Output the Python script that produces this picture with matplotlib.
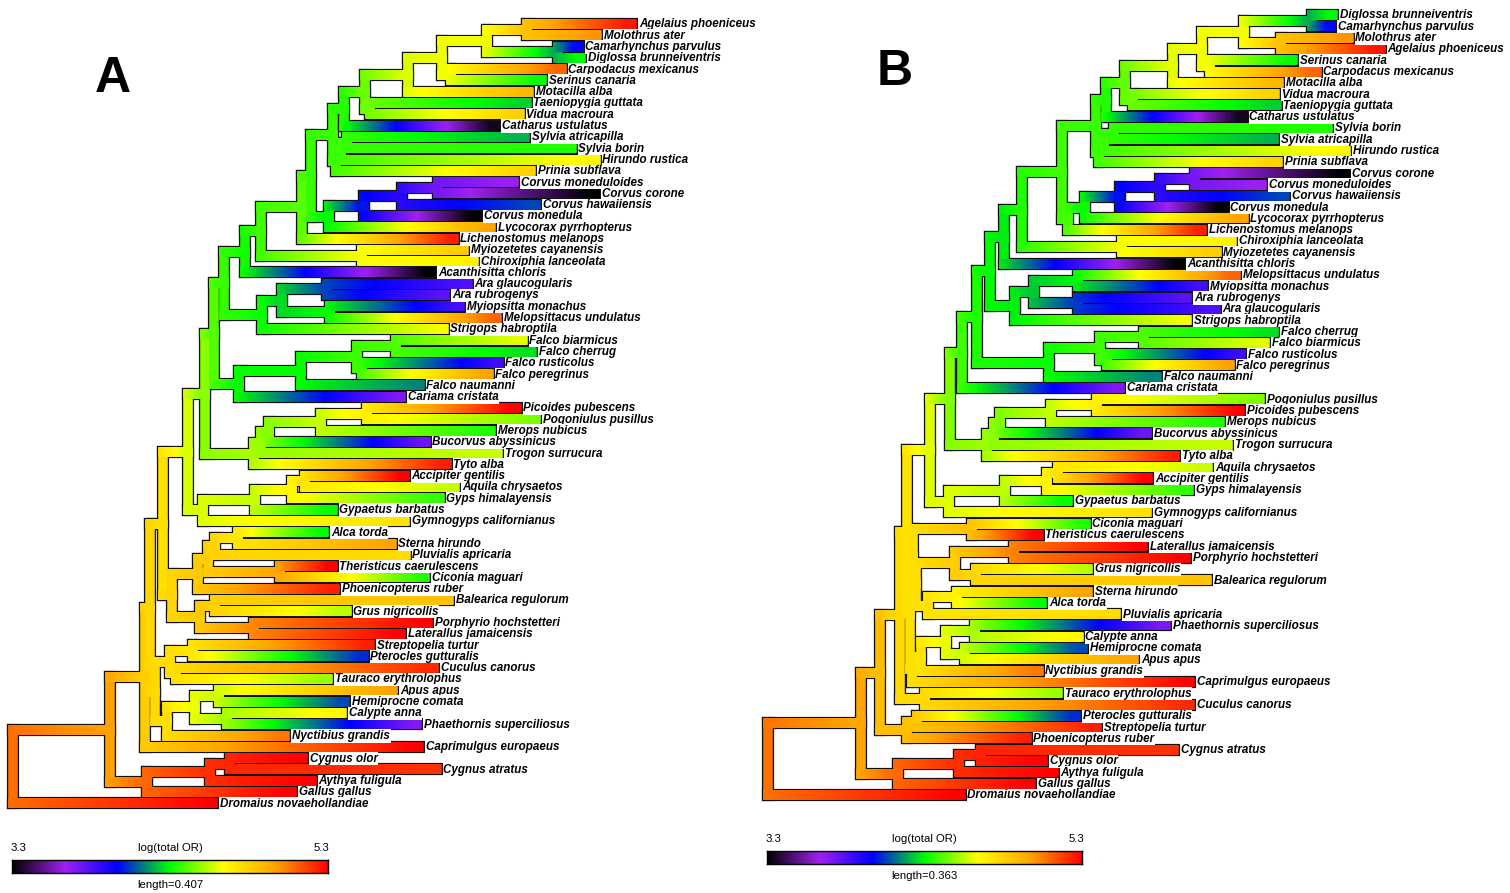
import numpy as np
import matplotlib
matplotlib.use("Agg")
import matplotlib.pyplot as plt
from matplotlib.collections import LineCollection
from matplotlib.colors import LinearSegmentedColormap, Normalize
from matplotlib import font_manager

# ---------------------------------------------------------------- data
# tip names (order of tree A) and the mapped trait log(total OR)
TIPS = [
    "Agelaius phoeniceus", "Molothrus ater", "Camarhynchus parvulus", "Diglossa brunneiventris",
    "Carpodacus mexicanus", "Serinus canaria", "Motacilla alba", "Taeniopygia guttata",
    "Vidua macroura", "Catharus ustulatus", "Sylvia atricapilla", "Sylvia borin",
    "Hirundo rustica", "Prinia subflava", "Corvus moneduloides", "Corvus corone",
    "Corvus hawaiiensis", "Corvus monedula", "Lycocorax pyrrhopterus", "Lichenostomus melanops",
    "Myiozetetes cayanensis", "Chiroxiphia lanceolata", "Acanthisitta chloris", "Ara glaucogularis",
    "Ara rubrogenys", "Myiopsitta monachus", "Melopsittacus undulatus", "Strigops habroptila",
    "Falco biarmicus", "Falco cherrug", "Falco rusticolus", "Falco peregrinus",
    "Falco naumanni", "Cariama cristata", "Picoides pubescens", "Pogoniulus pusillus",
    "Merops nubicus", "Bucorvus abyssinicus", "Trogon surrucura", "Tyto alba",
    "Accipiter gentilis", "Aquila chrysaetos", "Gyps himalayensis", "Gypaetus barbatus",
    "Gymnogyps californianus", "Alca torda", "Sterna hirundo", "Pluvialis apricaria",
    "Theristicus caerulescens", "Ciconia maguari", "Phoenicopterus ruber", "Balearica regulorum",
    "Grus nigricollis", "Porphyrio hochstetteri", "Laterallus jamaicensis", "Streptopelia turtur",
    "Pterocles gutturalis", "Cuculus canorus", "Tauraco erythrolophus", "Apus apus",
    "Hemiprocne comata", "Calypte anna", "Phaethornis superciliosus", "Nyctibius grandis",
    "Caprimulgus europaeus", "Cygnus olor", "Cygnus atratus", "Aythya fuligula",
    "Gallus gallus", "Dromaius novaehollandiae",
]
LOG_TOTAL_OR = [
    5.26, 5.00, 3.97, 4.30, 5.10, 4.30, 4.90, 4.24, 4.80, 3.34,
    4.20, 4.34, 4.66, 4.80, 3.64, 3.30, 4.06, 3.30, 4.97, 5.24,
    4.82, 4.68, 3.30, 3.80, 3.78, 3.82, 5.10, 4.62, 4.60, 4.26,
    3.84, 4.97, 4.14, 3.70, 5.30, 4.46, 4.34, 3.74, 4.56, 5.24,
    5.30, 4.56, 4.36, 4.30, 4.74, 4.30, 4.97, 4.76, 5.30, 4.34,
    5.24, 4.86, 4.54, 5.30, 5.30, 5.24, 4.02, 5.22, 4.50, 4.97,
    4.06, 4.66, 3.70, 5.06, 5.30, 5.30, 5.20, 5.30, 5.30, 5.30,
]
# tip heights (distance from root) in tree A and tree B, same order as TIPS
TIP_DEPTH_A = [
    0.798, 0.753, 0.729, 0.732, 0.707, 0.682, 0.665, 0.662, 0.653, 0.621,
    0.660, 0.720, 0.751, 0.668, 0.646, 0.750, 0.674, 0.598, 0.616, 0.568,
    0.581, 0.594, 0.539, 0.586, 0.557, 0.576, 0.624, 0.555, 0.657, 0.669,
    0.626, 0.613, 0.524, 0.500, 0.649, 0.674, 0.616, 0.532, 0.625, 0.559,
    0.505, 0.570, 0.550, 0.412, 0.505, 0.401, 0.488, 0.506, 0.412, 0.531,
    0.415, 0.562, 0.430, 0.535, 0.500, 0.460, 0.452, 0.543, 0.406, 0.490,
    0.428, 0.424, 0.521, 0.351, 0.523, 0.374, 0.546, 0.385, 0.360, 0.258,
]
TIP_DEPTH_B = [
    0.706, 0.669, 0.649, 0.651, 0.632, 0.605, 0.589, 0.586, 0.584, 0.547,
    0.583, 0.645, 0.666, 0.588, 0.569, 0.665, 0.596, 0.525, 0.548, 0.500,
    0.517, 0.535, 0.475, 0.516, 0.483, 0.501, 0.539, 0.483, 0.573, 0.583,
    0.545, 0.532, 0.448, 0.406, 0.544, 0.567, 0.521, 0.437, 0.530, 0.469,
    0.438, 0.507, 0.485, 0.346, 0.437, 0.316, 0.369, 0.401, 0.312, 0.366,
    0.298, 0.506, 0.369, 0.482, 0.432, 0.379, 0.355, 0.486, 0.334, 0.422,
    0.363, 0.358, 0.459, 0.312, 0.486, 0.317, 0.468, 0.329, 0.303, 0.222,
]
# internal nodes: (id, height from root, upper child, lower child)
NODES_A = [
    ("root", 0.000, "Neog", "Dromaius novaehollandiae"),
    ("Neog", 0.125, "Neoaves", "Gall"),
    ("Neoaves", 0.170, "J", "Caprimulgus europaeus"),
    ("J", 0.177, "I", "L"),
    ("I", 0.193, "H", "W"),
    ("H", 0.226, "G", "Accip"),
    ("G", 0.247, "F", "TC"),
    ("F", 0.259, "E", "FC"),
    ("E", 0.272, "D", "Psitt"),
    ("D", 0.299, "C", "Acanthisitta chloris"),
    ("C", 0.320, "B", "Tyr"),
    ("B", 0.372, "A", "Lichenostomus melanops"),
    ("A", 0.384, "Passerida", "CL"),
    ("Passerida", 0.412, "X5", "Sylv"),
    ("X5", 0.427, "X4", "Catharus ustulatus"),
    ("X4", 0.454, "X3", "TV"),
    ("X3", 0.509, "X2", "Motacilla alba"),
    ("X2", 0.553, "X1", "CS"),
    ("X1", 0.611, "AM", "CD"),
    ("AM", 0.662, "Agelaius phoeniceus", "Molothrus ater"),
    ("CD", 0.702, "Camarhynchus parvulus", "Diglossa brunneiventris"),
    ("CS", 0.564, "Carpodacus mexicanus", "Serinus canaria"),
    ("TV", 0.460, "Taeniopygia guttata", "Vidua macroura"),
    ("Sylv", 0.416, "SH", "Prinia subflava"),
    ("SH", 0.423, "Syl", "Hirundo rustica"),
    ("Syl", 0.430, "Sylvia atricapilla", "Sylvia borin"),
    ("CL", 0.407, "Corvus", "Lycocorax pyrrhopterus"),
    ("Corvus", 0.452, "CH", "Corvus monedula"),
    ("CH", 0.501, "CC", "Corvus hawaiiensis"),
    ("CC", 0.548, "Corvus moneduloides", "Corvus corone"),
    ("Tyr", 0.450, "Myiozetetes cayanensis", "Chiroxiphia lanceolata"),
    ("Psitt", 0.321, "PA", "Strigops habroptila"),
    ("PA", 0.347, "Ara", "MM"),
    ("Ara", 0.405, "Ara glaucogularis", "Ara rubrogenys"),
    ("MM", 0.409, "Myiopsitta monachus", "Melopsittacus undulatus"),
    ("FC", 0.291, "Falco", "Cariama cristata"),
    ("Falco", 0.371, "F2", "Falco naumanni"),
    ("F2", 0.443, "F1", "F3"),
    ("F1", 0.494, "Falco biarmicus", "Falco cherrug"),
    ("F3", 0.450, "Falco rusticolus", "Falco peregrinus"),
    ("TC", 0.311, "Cor", "Tyto alba"),
    ("Cor", 0.320, "Cor2", "Trogon surrucura"),
    ("Cor2", 0.330, "PPM", "Bucorvus abyssinicus"),
    ("PPM", 0.397, "PP", "Merops nubicus"),
    ("PP", 0.456, "Picoides pubescens", "Pogoniulus pusillus"),
    ("Accip", 0.245, "Acc1", "Gymnogyps californianus"),
    ("Acc1", 0.312, "AAG", "Gypaetus barbatus"),
    ("AAG", 0.360, "AA", "Gyps himalayensis"),
    ("AA", 0.376, "Accipiter gentilis", "Aquila chrysaetos"),
    ("W", 0.205, "V", "Gru"),
    ("V", 0.238, "W2", "Phoenicopterus ruber"),
    ("W2", 0.251, "Char", "TC2"),
    ("Char", 0.260, "AS", "Pluvialis apricaria"),
    ("AS", 0.290, "Alca torda", "Sterna hirundo"),
    ("TC2", 0.344, "Theristicus caerulescens", "Ciconia maguari"),
    ("Gru", 0.241, "BG", "PL"),
    ("BG", 0.260, "Balearica regulorum", "Grus nigricollis"),
    ("PL", 0.311, "Porphyrio hochstetteri", "Laterallus jamaicensis"),
    ("L", 0.183, "Col", "AN"),
    ("Col", 0.202, "SP", "CT"),
    ("SP", 0.232, "Streptopelia turtur", "Pterocles gutturalis"),
    ("CT", 0.210, "Cuculus canorus", "Tauraco erythrolophus"),
    ("AN", 0.198, "Apod", "Nyctibius grandis"),
    ("Apod", 0.235, "AH", "CPh"),
    ("AH", 0.265, "Apus apus", "Hemiprocne comata"),
    ("CPh", 0.276, "Calypte anna", "Phaethornis superciliosus"),
    ("Gall", 0.173, "Anser", "Gallus gallus"),
    ("Anser", 0.254, "Cyg", "Aythya fuligula"),
    ("Cyg", 0.280, "Cygnus olor", "Cygnus atratus"),
]
NODES_B = [
    ("root", 0.000, "Neog", "Dromaius novaehollandiae"),
    ("Neog", 0.107, "Neoaves", "Gall"),
    ("Neoaves", 0.129, "Q", "CP"),
    ("Q", 0.152, "R", "TCu"),
    ("R", 0.160, "T2", "WS"),
    ("T2", 0.187, "T1", "AccB"),
    ("T1", 0.210, "AU3", "CorB"),
    ("AU3", 0.224, "AU2", "Cariama cristata"),
    ("AU2", 0.241, "AU1", "Falco"),
    ("AU1", 0.256, "Pass", "Psitt"),
    ("Pass", 0.272, "Eup", "Acanthisitta chloris"),
    ("Eup", 0.293, "Os", "Tyr"),
    ("Os", 0.339, "P", "CLL"),
    ("P", 0.378, "PC", "Sylv"),
    ("PC", 0.389, "Passeroidea", "Catharus ustulatus"),
    ("Passeroidea", 0.411, "PAx", "VT"),
    ("PAx", 0.467, "PB", "Motacilla alba"),
    ("PB", 0.500, "PD", "SC"),
    ("PD", 0.548, "DC", "MA"),
    ("DC", 0.627, "Diglossa brunneiventris", "Camarhynchus parvulus"),
    ("MA", 0.591, "Molothrus ater", "Agelaius phoeniceus"),
    ("SC", 0.509, "Serinus canaria", "Carpodacus mexicanus"),
    ("VT", 0.421, "Vidua macroura", "Taeniopygia guttata"),
    ("Sylv", 0.381, "SH", "Prinia subflava"),
    ("SH", 0.387, "Syl", "Hirundo rustica"),
    ("Syl", 0.399, "Sylvia borin", "Sylvia atricapilla"),
    ("CLL", 0.346, "CL", "Lichenostomus melanops"),
    ("CL", 0.365, "Corvus", "Lycocorax pyrrhopterus"),
    ("Corvus", 0.406, "CH", "Corvus monedula"),
    ("CH", 0.452, "CC", "Corvus hawaiiensis"),
    ("CC", 0.492, "Corvus corone", "Corvus moneduloides"),
    ("Tyr", 0.408, "Chiroxiphia lanceolata", "Myiozetetes cayanensis"),
    ("Psitt", 0.285, "MA2", "Strigops habroptila"),
    ("MA2", 0.306, "MMy", "AraB"),
    ("MMy", 0.357, "Melopsittacus undulatus", "Myiopsitta monachus"),
    ("AraB", 0.357, "Ara rubrogenys", "Ara glaucogularis"),
    ("Falco", 0.324, "F2", "Falco naumanni"),
    ("F2", 0.382, "F1", "F3"),
    ("F1", 0.433, "Falco cherrug", "Falco biarmicus"),
    ("F3", 0.391, "Falco rusticolus", "Falco peregrinus"),
    ("CorB", 0.252, "CB1", "Tyto alba"),
    ("CB1", 0.260, "CB2", "Trogon surrucura"),
    ("CB2", 0.267, "CB3", "Bucorvus abyssinicus"),
    ("CB3", 0.326, "PP", "Merops nubicus"),
    ("PP", 0.379, "Pogoniulus pusillus", "Picoides pubescens"),
    ("AccB", 0.209, "AB1", "Gymnogyps californianus"),
    ("AB1", 0.273, "AB2", "Gypaetus barbatus"),
    ("AB2", 0.321, "AAc", "Gyps himalayensis"),
    ("AAc", 0.334, "Aquila chrysaetos", "Accipiter gentilis"),
    ("WS", 0.164, "Wat", "Stri"),
    ("Wat", 0.167, "CT", "GC"),
    ("CT", 0.235, "Ciconia maguari", "Theristicus caerulescens"),
    ("GC", 0.171, "Gru", "Char"),
    ("Gru", 0.215, "LP", "GB"),
    ("LP", 0.283, "Laterallus jamaicensis", "Porphyrio hochstetteri"),
    ("GB", 0.240, "Grus nigricollis", "Balearica regulorum"),
    ("Char", 0.184, "SA", "Pluvialis apricaria"),
    ("SA", 0.218, "Sterna hirundo", "Alca torda"),
    ("Stri", 0.166, "AN", "Caprimulgus europaeus"),
    ("AN", 0.176, "Apod", "Nyctibius grandis"),
    ("Apod", 0.205, "PhC", "HA"),
    ("PhC", 0.238, "Phaethornis superciliosus", "Calypte anna"),
    ("HA", 0.227, "Hemiprocne comata", "Apus apus"),
    ("TCu", 0.181, "Tauraco erythrolophus", "Cuculus canorus"),
    ("CP", 0.160, "PS", "Phoenicopterus ruber"),
    ("PS", 0.172, "Pterocles gutturalis", "Streptopelia turtur"),
    ("Gall", 0.150, "Anser", "Gallus gallus"),
    ("Anser", 0.220, "Cyg", "Aythya fuligula"),
    ("Cyg", 0.245, "Cygnus atratus", "Cygnus olor"),
]
TRAIT_LIMS = [3.3, 5.3]
LEGEND_LENGTH = [0.407, 0.363]
PANEL_LABELS = ["A", "B"]
LEGEND_TITLE = "log(total OR)"
PALETTE = ["#000000", "#A020F0", "#0000FF", "#00FF00", "#FFFF00", "#FFA500", "#FF0000"]

# ---------------------------------------------------------------- layout (pixels)
W, H = 1510, 893
LAYOUT = [
    dict(x0=0, x1=760, root=13, ppu=776.0, ytop=24, dy=11.294, bar_y=860, letter=(113, 79)),
    dict(x0=760, x1=1510, root=768, ppu=868.0, ytop=15, dy=11.304, bar_y=851, letter=(895, 72)),
]
AX_Y1 = 830
LW_COL_PX, LW_OUT_PX = 9.6, 12.2

avail = {f.name for f in font_manager.fontManager.ttflist}
TEXT_FONT = "Liberation Sans" if "Liberation Sans" in avail else "DejaVu Sans"
LABEL_FONT = TEXT_FONT
LABEL_SIZE = 8.4 if TEXT_FONT == "Liberation Sans" else 7.4

cmap = LinearSegmentedColormap.from_list("contmap", PALETTE, N=1001)
norm = Normalize(*TRAIT_LIMS)
tipval = dict(zip(TIPS, LOG_TOTAL_OR))


def build_tree(nodes, tip_depth):
    depth = {n: d for n, d, _, _ in nodes}
    depth.update(dict(zip(TIPS, tip_depth)))
    children = {n: [c1, c2] for n, _, c1, c2 in nodes}
    return depth, children


def ancestral(depth, children, root="root"):
    """ML ancestral states under Brownian motion (two-pass)."""
    parent = {c: p for p, cs in children.items() for c in cs}
    order = []

    def post(n):
        for c in children.get(n, []):
            post(c)
        order.append(n)
    post(root)
    bl = {n: depth[n] - depth[parent[n]] for n in parent}
    dm, dv = {}, {}
    for n in order:
        if n not in children:
            dm[n], dv[n] = tipval[n], 0.0
        else:
            w = [1.0 / (dv[c] + bl[c]) for c in children[n]]
            dm[n] = sum(wi * dm[c] for wi, c in zip(w, children[n])) / sum(w)
            dv[n] = 1.0 / sum(w)
    up = {}
    val = {}
    for n in reversed(order):
        if n not in children:
            val[n] = tipval[n]
            continue
        msgs = [(dm[c], dv[c] + bl[c]) for c in children[n]]
        extra = [up[n]] if n in up else []
        allm = msgs + extra
        w = [1 / v for _, v in allm]
        val[n] = sum(wi * m for wi, (m, _) in zip(w, allm)) / sum(w)
        for i, c in enumerate(children[n]):
            oth = [msgs[j] for j in range(len(msgs)) if j != i] + extra
            ww = [1 / v for _, v in oth]
            m = sum(wi * mm for wi, (mm, _) in zip(ww, oth)) / sum(ww)
            up[c] = (m, 1.0 / sum(ww) + bl[c])
    return val, parent


def tip_order(children, n="root"):
    if n not in children:
        return [n]
    out = []
    for c in children[n]:
        out += tip_order(children, c)
    return out


fig = plt.figure(figsize=(W / 100, H / 100), dpi=100)


def px_axes(x0, y0, x1, y1):
    return fig.add_axes([x0 / W, 1 - y1 / H, (x1 - x0) / W, (y1 - y0) / H])


for k, (nodes, tdepth) in enumerate([(NODES_A, TIP_DEPTH_A), (NODES_B, TIP_DEPTH_B)]):
    L = LAYOUT[k]
    depth, children = build_tree(nodes, tdepth)
    val, parent = ancestral(depth, children)
    tips = tip_order(children)
    ypos = {t: i for i, t in enumerate(tips)}

    def sety(n):
        if n in ypos:
            return ypos[n]
        ys = [sety(c) for c in children[n]]
        ypos[n] = (ys[0] + ys[-1]) / 2
        return ypos[n]
    sety("root")

    ax = px_axes(L["x0"], 0, L["x1"], AX_Y1)
    ax.set_xlim((L["x0"] - L["root"]) / L["ppu"], (L["x1"] - L["root"]) / L["ppu"])
    ax.set_ylim((AX_Y1 - L["ytop"]) / L["dy"], -L["ytop"] / L["dy"])
    ax.axis("off")

    lw_c = LW_COL_PX * 72 / 100
    lw_o = LW_OUT_PX * 72 / 100
    hseg, hcol, oseg, vseg, vcol = [], [], [], [], []
    for c, p in parent.items():
        x0, x1, y = depth[p], depth[c], ypos[c]
        oseg.append([(x0, y), (x1, y)])
        nseg = max(2, int(np.ceil((x1 - x0) / 0.0015)))
        xs = np.linspace(x0, x1, nseg + 1)
        vs = np.linspace(val[p], val[c], nseg + 1)
        mids = (vs[:-1] + vs[1:]) / 2
        for i in range(nseg):
            hseg.append([(xs[i], y), (xs[i + 1], y)])
        hcol.extend(cmap(norm(mids)))
    for n, cs in children.items():
        seg = [(depth[n], ypos[cs[0]]), (depth[n], ypos[cs[-1]])]
        vseg.append(seg)
        oseg.append(seg)
        vcol.append(cmap(norm(val[n])))
    ax.add_collection(LineCollection(oseg, colors="#111111", linewidths=lw_o,
                                     capstyle="projecting", zorder=1))
    ax.add_collection(LineCollection(vseg, colors=vcol, linewidths=lw_c,
                                     capstyle="projecting", zorder=2))
    ax.add_collection(LineCollection(hseg, colors=hcol, linewidths=lw_c,
                                     capstyle="projecting", zorder=3))
    for t in tips:
        ax.annotate(t, xy=(depth[t], ypos[t]), xytext=(4.8, -0.3), textcoords="offset points",
                    va="center", ha="left", fontsize=LABEL_SIZE, style="italic", weight="bold",
                    family=LABEL_FONT, zorder=5, annotation_clip=False,
                    bbox=dict(boxstyle="square,pad=0.05", fc="white", ec="none"))

    # panel letter
    fig.text(L["letter"][0] / W, 1 - L["letter"][1] / H, PANEL_LABELS[k], fontsize=36,
             weight="bold", family=TEXT_FONT, ha="center", va="center")

    # colour legend (bar width = legend length in tree units)
    bx0 = L["root"] - 1
    bx1 = bx0 + LEGEND_LENGTH[k] * L["ppu"]
    by = L["bar_y"]
    cax = px_axes(bx0, by, bx1, by + 13)
    grad = np.linspace(TRAIT_LIMS[0], TRAIT_LIMS[1], 600)[None, :]
    cax.imshow(grad, aspect="auto", cmap=cmap, norm=norm,
               extent=(TRAIT_LIMS[0], TRAIT_LIMS[1], 0, 1))
    cax.set_xticks([])
    cax.set_yticks([])
    for s in cax.spines.values():
        s.set_linewidth(1.0)
        s.set_color("black")
    xm = (bx0 + bx1) / 2
    ty = by - 12
    fig.text((bx0 + 6) / W, 1 - ty / H, f"{TRAIT_LIMS[0]:.1f}", fontsize=8.2,
             family=TEXT_FONT, ha="center", va="center")
    fig.text((bx1 - 6) / W, 1 - ty / H, f"{TRAIT_LIMS[1]:.1f}", fontsize=8.2,
             family=TEXT_FONT, ha="center", va="center")
    fig.text(xm / W, 1 - ty / H, LEGEND_TITLE, fontsize=8.2, family=TEXT_FONT,
             ha="center", va="center")
    fig.text(xm / W, 1 - (by + 25) / H, f"length={LEGEND_LENGTH[k]}", fontsize=8.2,
             family=TEXT_FONT, ha="center", va="center")

fig.savefig("out.png", dpi=100, facecolor="white")
